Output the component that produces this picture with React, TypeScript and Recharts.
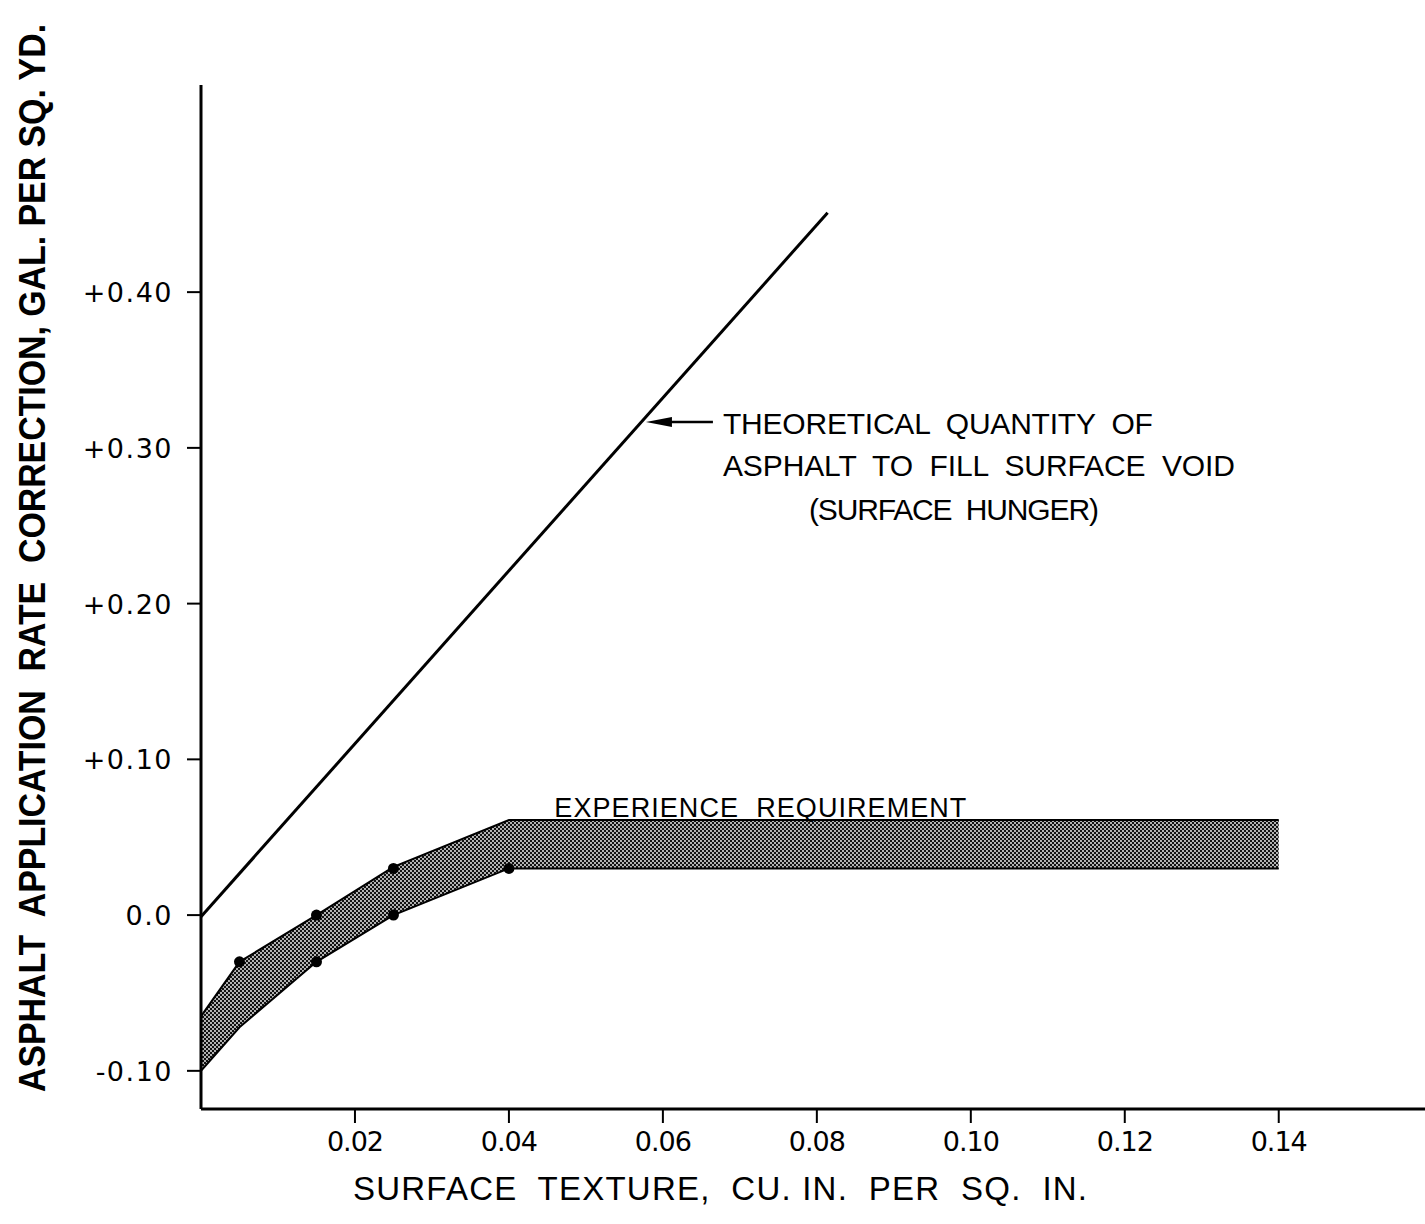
import React from "react";
import {
  Area,
  ComposedChart,
  Line,
  ReferenceDot,
  ReferenceLine,
  Scatter,
  XAxis,
  YAxis,
} from "recharts";

// surface texture (cu. in. per sq. in.) along the experience band
const bandTexture = [0, 0.005, 0.015, 0.025, 0.04, 0.14];
const bandUpper = [-0.065, -0.03, 0.0, 0.031, 0.061, 0.061];
const bandLower = [-0.1, -0.072, -0.03, 0.0, 0.03, 0.03];

// theoretical surface hunger line
const hungerTexture = [0, 0.0814];
const hungerRate = [-0.001, 0.451];

// field observations plotted on the band edges
const obsTexture = [0.005, 0.015, 0.015, 0.025, 0.025, 0.04];
const obsRate = [-0.03, 0.0, -0.03, 0.03, 0.0, 0.03];

const xTicks = [0.02, 0.04, 0.06, 0.08, 0.1, 0.12, 0.14];
const xTickLabels = ["0.02", "0.04", "0.06", "0.08", "0.10", "0.12", "0.14"];
const yTicks = [-0.1, 0, 0.1, 0.2, 0.3, 0.4];
const yTickLabels = ["-0.10", "0.0", "+0.10", "+0.20", "+0.30", "+0.40"];

const bandData = bandTexture.map((x, i) => ({ x, band: [bandLower[i], bandUpper[i]] }));
const hungerData = hungerTexture.map((x, i) => ({ x, y: hungerRate[i] }));
const obsData = obsTexture.map((x, i) => ({ x, y: obsRate[i] }));

const INK = "#000";
const LETTER = "'Liberation Sans', Arial, sans-serif";
const DIGIT = "'DejaVu Sans', sans-serif";

function XTick({ x, y, payload }: any) {
  const i = xTicks.indexOf(payload.value);
  return (
    <text x={x} y={y} dy={20} textAnchor="middle" fontFamily={DIGIT} fontSize={27} letterSpacing={-1} fill={INK}>
      {xTickLabels[i]}
    </text>
  );
}

function YTick({ x, y, payload }: any) {
  const i = yTicks.findIndex((t) => Math.abs(t - payload.value) < 1e-9);
  return (
    <text x={x + 2} y={y} dy={10} textAnchor="end" fontFamily={DIGIT} fontSize={27} letterSpacing={1.5} fill={INK}>
      {yTickLabels[i]}
    </text>
  );
}

// rotated title, squeezed horizontally so the bold lettering fits the axis height
function YTitle() {
  return (
    <text
      transform="translate(45,558) rotate(-90) scale(0.915,1)"
      textAnchor="middle"
      fontFamily={LETTER}
      fontWeight="bold"
      fontSize={37}
      fill={INK}
      style={{ whiteSpace: "pre" }}
    >
      {"ASPHALT  APPLICATION  RATE  CORRECTION, GAL. PER SQ. YD."}
    </text>
  );
}

function XTitle() {
  return (
    <text
      x={720}
      y={1200}
      textAnchor="middle"
      fontFamily={LETTER}
      fontSize={33}
      textLength={734}
      fill={INK}
      style={{ whiteSpace: "pre" }}
    >
      {"SURFACE  TEXTURE,  CU. IN.  PER  SQ.  IN."}
    </text>
  );
}

function HungerNote({ cx, cy }: any) {
  const common = { fontFamily: LETTER, fontSize: 30, fill: INK, style: { whiteSpace: "pre" as const } };
  return (
    <g>
      <text x={cx} y={cy} textLength={430} {...common}>
        {"THEORETICAL  QUANTITY  OF"}
      </text>
      <text x={cx} y={cy + 42} textLength={512} {...common}>
        {"ASPHALT  TO  FILL  SURFACE  VOID"}
      </text>
      <text x={cx + 86} y={cy + 86} textLength={290} {...common}>
        {"(SURFACE  HUNGER)"}
      </text>
    </g>
  );
}

function BandNote({ cx, cy }: any) {
  return (
    <text x={cx} y={cy} fontFamily={LETTER} fontSize={27} textLength={412} fill={INK} style={{ whiteSpace: "pre" }}>
      {"EXPERIENCE  REQUIREMENT"}
    </text>
  );
}

function Arrow({ x1, y1, x2, y2 }: any) {
  return (
    <g>
      <line x1={x1 + 20} y1={y1} x2={x2} y2={y2} stroke={INK} strokeWidth={2.5} />
      <polygon points={`${x1},${y1} ${x1 + 26},${y1 - 5} ${x1 + 26},${y1 + 5}`} fill={INK} />
    </g>
  );
}

export default function App() {
  return (
    <div style={{ position: "absolute", left: 0, top: 0, background: "#fff" }}>
      <ComposedChart
        width={1425}
        height={1224}
        data={bandData}
        margin={{ top: 85, right: 0, bottom: 0, left: 0 }}
      >
        <defs>
          <pattern id="stipple" width={4} height={4} patternUnits="userSpaceOnUse">
            <rect width={4} height={4} fill="#111" />
            <circle cx={1} cy={1} r={0.9} fill="#fff" />
            <circle cx={3} cy={3} r={0.9} fill="#fff" />
          </pattern>
        </defs>
        <XAxis
          type="number"
          dataKey="x"
          domain={[0, 0.159]}
          allowDataOverflow
          ticks={xTicks}
          tick={<XTick />}
          tickSize={14}
          tickMargin={8}
          height={115}
          axisLine={{ stroke: INK, strokeWidth: 3 }}
          tickLine={{ stroke: INK, strokeWidth: 2 }}
          label={<XTitle />}
        />
        <YAxis
          type="number"
          domain={[-0.1245, 0.533]}
          allowDataOverflow
          ticks={yTicks}
          tick={<YTick />}
          tickSize={14}
          tickMargin={16}
          width={201}
          axisLine={{ stroke: INK, strokeWidth: 3 }}
          tickLine={{ stroke: INK, strokeWidth: 2 }}
          label={<YTitle />}
        />
        <Area
          type="linear"
          dataKey="band"
          fill="url(#stipple)"
          fillOpacity={1}
          stroke={INK}
          strokeWidth={2}
          dot={false}
          activeDot={false}
          isAnimationActive={false}
        />
        <Line
          data={hungerData}
          type="linear"
          dataKey="y"
          stroke={INK}
          strokeWidth={3}
          dot={false}
          activeDot={false}
          isAnimationActive={false}
        />
        <Scatter
          data={obsData}
          dataKey="y"
          fill={INK}
          shape={(p: any) => <circle cx={p.cx} cy={p.cy} r={5.5} fill={INK} />}
          isAnimationActive={false}
        />
        <ReferenceLine
          segment={[
            { x: 0.0578, y: 0.3166 },
            { x: 0.0665, y: 0.3166 },
          ]}
          shape={<Arrow />}
        />
        <ReferenceDot x={0.0678} y={0.309} r={0} shape={<HungerNote />} />
        <ReferenceDot x={0.0459} y={0.0629} r={0} shape={<BandNote />} />
      </ComposedChart>
    </div>
  );
}
